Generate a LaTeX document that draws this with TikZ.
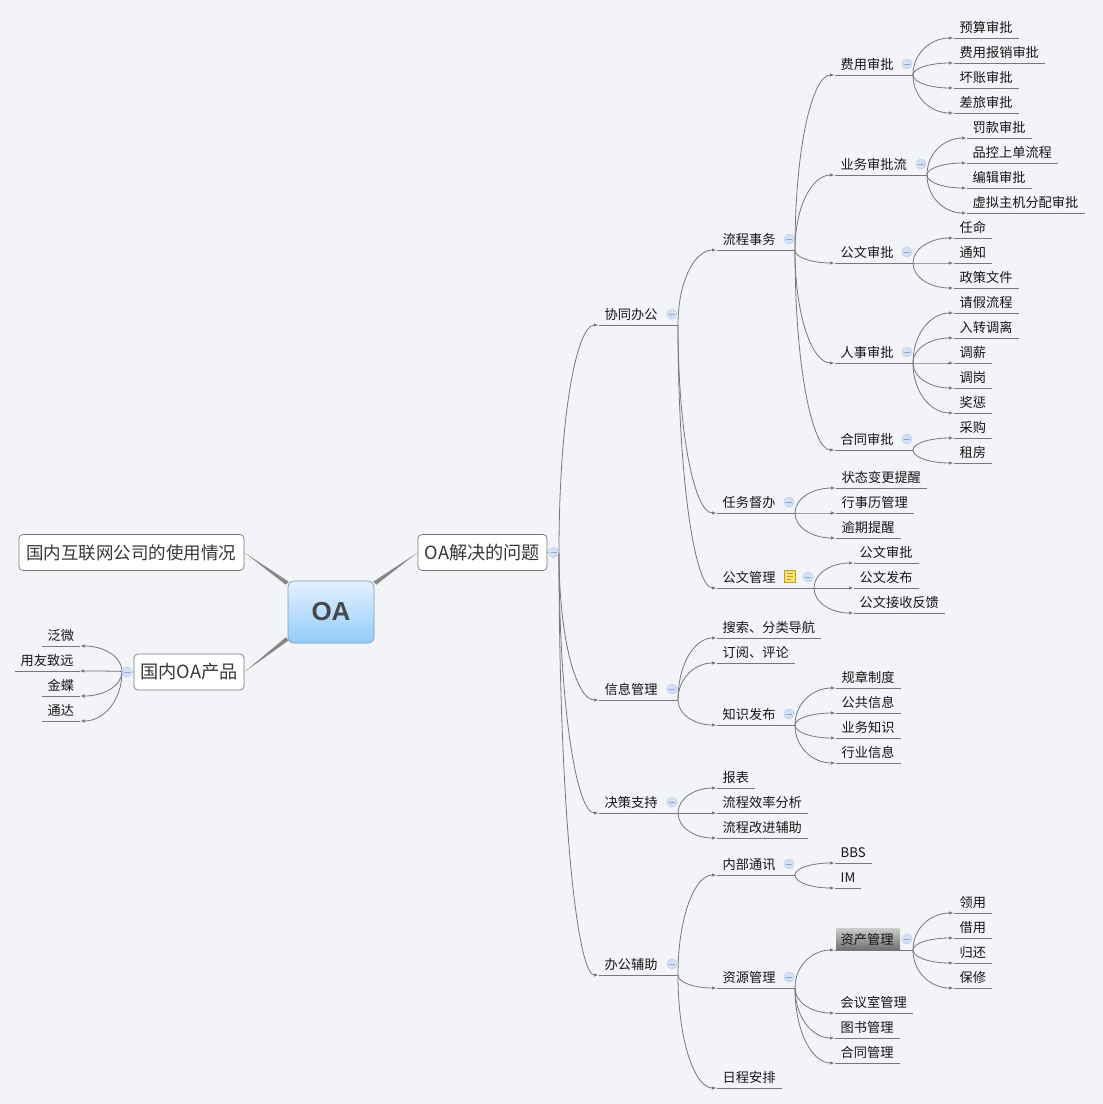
\documentclass[tikz,border=0pt]{standalone}
\usepackage{fontspec}
\setmainfont{Noto Sans CJK SC}
\newfontfamily\latinbold[BoldFont=Liberation Sans Bold]{Liberation Sans}
\usetikzlibrary{arrows.meta,calc,shapes.geometric}
\definecolor{bgc}{HTML}{F2F4F8}
\definecolor{linec}{HTML}{777777}
\definecolor{txtc}{HTML}{151515}
\definecolor{boxedge}{HTML}{777777}
\definecolor{taperc}{HTML}{888888}
\definecolor{oatop}{HTML}{E4F1FF}
\definecolor{oabot}{HTML}{93CBFA}
\definecolor{oaedge}{HTML}{7D9DB8}
\definecolor{cfill}{HTML}{D3E0F6}
\definecolor{cedge}{HTML}{B9CBE8}
\definecolor{cminus}{HTML}{8FA6C8}
\definecolor{notef}{HTML}{FBE27E}
\definecolor{notee}{HTML}{C99A1E}
\tikzset{
  x=1pt,y=-1pt,
  topic/.style={anchor=south west,inner xsep=6pt,inner ysep=5pt,text height=11pt,text depth=0pt,text=txtc,font=\fontsize{13.2}{15}\selectfont},
  uline/.style={draw=linec,line width=0.8pt},
  conn/.style={draw=linec,line width=0.8pt,-{Latex[length=4.5pt,width=3.5pt]}},
  mainbox/.style={draw=boxedge,fill=white,rounded corners=4pt,line width=0.7pt,minimum height=36pt,inner sep=0pt,text=txtc!85!white,font=\fontsize{17.5}{20}\selectfont},
  oabox/.style={draw=oaedge,rounded corners=6pt,top color=oatop,bottom color=oabot,line width=0.7pt,minimum width=86pt,minimum height=62pt,inner sep=0pt,text=black!72,font=\latinbold\bfseries\fontsize{26}{30}\selectfont},
  taper/.style={fill=taperc,draw=none},
  collapse/.style={circle,draw=cedge,fill=cfill,line width=0.5pt,minimum size=10pt,inner sep=0pt,path picture={\draw[cminus,line width=0.7pt] ($(path picture bounding box.center)+(-3,0)$) -- ($(path picture bounding box.center)+(3,0)$);}},
  hlbox/.style={top color=black!20,bottom color=black!55,draw=none,minimum width=64pt,minimum height=21pt,inner sep=0pt},
  notebox/.style={draw=notee,fill=notef,line width=0.7pt,minimum width=11pt,minimum height=12pt,inner sep=0pt},
  noteline/.style={draw=notee,line width=0.5pt}
}
\newcommand{\mmtopic}[4]{\node[topic] (#1) at (#2-6.5,#3) {#4};\draw[uline] (#1.south west) -- (#1.south east);}
\newcommand{\mmparent}[5]{\node[topic] (#1) at (#2-6.5,#3) {#4};\coordinate (#1f) at (#5,#3);\draw[uline] (#1.south west) -- (#1f);\node[collapse] (#1c) at (#5-6,#3-11) {};}
\newcommand{\mmlink}[2]{\draw[conn] (#1f) .. controls ($(#1f)!0.6!(#1f |- #2.south west)$) and ($(#2.south west)!0.55!(#1f |- #2.south west)$) .. (#2.south west);}
\newcommand{\mmlinks}[2]{\foreach \kid in {#2}{\mmlink{#1}{\kid}}}
\begin{document}
\begin{tikzpicture}
\useasboundingbox (0,0) rectangle (1103,1104);
\fill[bgc] (0,0) rectangle (1103,1104);

% central and main boxes
\node[oabox] (oa) at (331,612) {\raisebox{-0.5pt}{OA}};
\node[mainbox,minimum width=129pt,font=\fontsize{18.2}{20}\selectfont] (prob) at (482.5,552.5) {OA解决的问题};
\node[mainbox,minimum width=225pt] (usage) at (131.5,552.5) {国内互联网公司的使用情况};
\node[mainbox,minimum width=110pt,font=\fontsize{18.2}{20}\selectfont] (prod) at (189,672) {国内OA产品};

\fill[taper] (usage.east) -- ($(oa.north west)+(1,1)$) -- ($(oa.north west)+(-2,4)$) -- cycle;
\fill[taper] (prod.east) -- ($(oa.south west)+(1,-3)$) -- ($(oa.south west)+(-2,-6)$) -- cycle;
\fill[taper] (prob.west) -- ($(oa.north east)+(-1,1)$) -- ($(oa.north east)+(2,4)$) -- cycle;

% level 4
\mmtopic{a1}{960}{38}{预算审批}
\mmtopic{a2}{960}{63}{费用报销审批}
\mmtopic{a3}{960}{88}{坏账审批}
\mmtopic{a4}{960}{113}{差旅审批}
\mmtopic{b1}{973}{138}{罚款审批}
\mmtopic{b2}{973}{163}{品控上单流程}
\mmtopic{b3}{973}{188}{编辑审批}
\mmtopic{b4}{973}{213}{虚拟主机分配审批}
\mmtopic{c1}{960}{238}{任命}
\mmtopic{c2}{960}{263}{通知}
\mmtopic{c3}{960}{288}{政策文件}
\mmtopic{d1}{960}{313}{请假流程}
\mmtopic{d2}{960}{338}{入转调离}
\mmtopic{d3}{960}{363}{调薪}
\mmtopic{d4}{960}{388}{调岗}
\mmtopic{d5}{960}{413}{奖惩}
\mmtopic{e1}{960}{438}{采购}
\mmtopic{e2}{960}{463}{租房}
\mmtopic{g1}{842}{488}{状态变更提醒}
\mmtopic{g2}{842}{513}{行事历管理}
\mmtopic{g3}{842}{538}{逾期提醒}
\mmtopic{h1}{860}{563}{公文审批}
\mmtopic{h2}{860}{588}{公文发布}
\mmtopic{h3}{860}{613}{公文接收反馈}
\mmtopic{k1}{842}{688}{规章制度}
\mmtopic{k2}{842}{713}{公共信息}
\mmtopic{k3}{842}{738}{业务知识}
\mmtopic{k4}{842}{763}{行业信息}
\mmtopic{n1}{841}{863}{BBS}
\mmtopic{n2}{841}{888}{IM}
\mmtopic{r1}{960}{913}{领用}
\mmtopic{r2}{960}{938}{借用}
\mmtopic{r3}{960}{963}{归还}
\mmtopic{r4}{960}{988}{保修}
\mmtopic{s2}{841}{1013}{会议室管理}
\mmtopic{s3}{841}{1038}{图书管理}
\mmtopic{s4}{841}{1063}{合同管理}

% level 3
\mmparent{fa}{841}{75}{费用审批}{913}
\mmparent{fb}{841}{175}{业务审批流}{927}
\mmparent{fc}{841}{263}{公文审批}{913}
\mmparent{fd}{841}{363}{人事审批}{913}
\mmparent{fe}{841}{450}{合同审批}{913}
\node[hlbox] (hl) at (868,938.5) {};
\mmparent{fr}{841}{950}{资产管理}{913}

% level 2
\mmparent{flow}{723}{250}{流程事务}{795}
\mmparent{task}{723}{513}{任务督办}{795}
\mmparent{doc}{723}{588}{公文管理}{814}
\mmtopic{i1}{723}{638}{搜索、分类导航}
\mmtopic{i2}{723}{663}{订阅、评论}
\mmparent{know}{723}{725}{知识发布}{795}
\mmtopic{j1}{723}{788}{报表}
\mmtopic{j2}{723}{813}{流程效率分析}
\mmtopic{j3}{723}{838}{流程改进辅助}
\mmparent{comm}{723}{875}{内部通讯}{795}
\mmparent{res}{723}{988}{资源管理}{795}
\mmtopic{sch}{723}{1088}{日程安排}

% level 1
\mmparent{xt}{605}{325}{协同办公}{678}
\mmparent{xx}{605}{700}{信息管理}{678}
\mmparent{jc}{605}{813}{决策支持}{678}
\mmparent{bg}{605}{975}{办公辅助}{678}

% note icon
\node[notebox] (note) at (790,576.5) {};
\draw[noteline] ($(note.north west)+(2.5,3)$) -- ($(note.north east)+(-2.5,3)$);
\draw[noteline] ($(note.north west)+(2.5,6)$) -- ($(note.north east)+(-2.5,6)$);
\draw[noteline] ($(note.north west)+(2.5,9)$) -- ($(note.north west)+(6.5,9)$);

% links
\mmlinks{fa}{a1,a2,a3,a4}
\mmlinks{fb}{b1,b2,b3,b4}
\mmlinks{fc}{c1,c2,c3}
\mmlinks{fd}{d1,d2,d3,d4,d5}
\mmlinks{fe}{e1,e2}
\mmlinks{fr}{r1,r2,r3,r4}
\mmlinks{flow}{fa,fb,fc,fd,fe}
\mmlinks{task}{g1,g2,g3}
\mmlinks{doc}{h1,h2,h3}
\mmlinks{know}{k1,k2,k3,k4}
\mmlinks{comm}{n1,n2}
\mmlinks{res}{fr,s2,s3,s4}
\mmlinks{xt}{flow,task,doc}
\mmlinks{xx}{i1,i2,know}
\mmlinks{jc}{j1,j2,j3}
\mmlinks{bg}{comm,res,sch}

% root fork
\coordinate (probf) at (559,552.5);
\draw[uline,linec!70] (prob.east) -- (probf);
\mmlinks{prob}{xt,xx,jc,bg}
\node[collapse] (probc) at (553.5,552.5) {};

% left side
\mmtopic{p1}{48}{646}{泛微}
\mmtopic{p2}{21}{671}{用友致远}
\mmtopic{p3}{48}{696}{金蝶}
\mmtopic{p4}{48}{721}{通达}
\coordinate (prodf) at (122,671.5);
\draw[uline,linec!70] (prod.west) -- (prodf);
\foreach \kid in {p1,p2,p3,p4}{
  \draw[conn] (prodf) .. controls ($(prodf)!0.6!(prodf |- \kid.south east)$) and ($(\kid.south east)!0.55!(prodf |- \kid.south east)$) .. (\kid.south east);
}
\node[collapse] (prodc) at (127,672) {};
\end{tikzpicture}
\end{document}
